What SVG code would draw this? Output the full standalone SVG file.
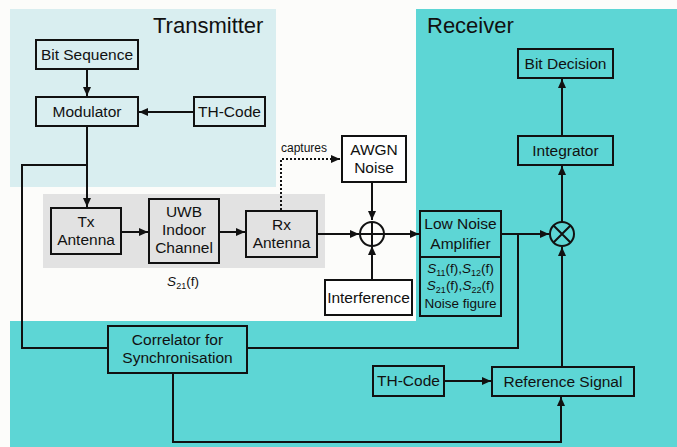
<svg xmlns="http://www.w3.org/2000/svg" width="677" height="447" viewBox="0 0 677 447">
<defs>
<marker id="ah" markerUnits="userSpaceOnUse" markerWidth="10" markerHeight="10" refX="9" refY="4" orient="auto"><path d="M0,0 L9,4 L0,8 z" fill="#111"/></marker>
<style>
.box{fill:none;stroke:#111;stroke-width:2}
.wbox{fill:#fff;stroke:#111;stroke-width:2}
.ln{fill:none;stroke:#111;stroke-width:2}
.arr{fill:none;stroke:#111;stroke-width:2;marker-end:url(#ah)}
.dot{fill:none;stroke:#111;stroke-width:2;stroke-dasharray:2,2;marker-end:url(#ah)}
text{font-family:"Liberation Sans",Arial,sans-serif;fill:#111}
.t{font-size:15.5px;text-anchor:middle}
.s{font-size:13.5px;text-anchor:middle}
.h{font-size:22px}
</style>
</defs>
<rect width="677" height="447" fill="#fcfcfa"/>
<rect x="10" y="9" width="266" height="178" fill="#d9eef0"/>
<path d="M416,9 H677 V447 H10 V321 H416 Z" fill="#5dd6d5"/>
<rect x="43" y="194" width="282" height="74" fill="#e2e2e2"/>
<text class="h" x="153" y="33">Transmitter</text>
<text class="h" x="427" y="33">Receiver</text>

<g id="connectors">
<path class="arr" d="M87,69 V96"/>
<path class="arr" d="M194,112 H139"/>
<path class="arr" d="M87,126 V207"/>
<path class="ln" d="M87,165 H22 V348 H108"/>
<path class="arr" d="M121,232 H148"/>
<path class="arr" d="M219,232 H245"/>
<path class="arr" d="M317,234 H359"/>
<path class="dot" d="M281,210 V159 H340"/>
<path class="arr" d="M372,182 V220"/>
<path class="arr" d="M372,280 V246"/>
<path class="arr" d="M384,234 H419"/>
<path class="arr" d="M501,234 H549"/>
<path class="ln" d="M518,234 V348 H247"/>
<path class="arr" d="M562,222 V166"/>
<path class="arr" d="M562,136 V79"/>
<path class="arr" d="M562,367 V247"/>
<path class="arr" d="M444,381 H491"/>
<path class="arr" d="M173,373 V442 H561 V397"/>
</g>

<g id="bitseq"><rect class="box" x="36" y="40" width="102" height="29"/><text class="t" x="87" y="60">Bit Sequence</text></g>
<g id="modulator"><rect class="box" x="36" y="97" width="102" height="29"/><text class="t" x="87" y="117">Modulator</text></g>
<g id="thcode1"><rect class="box" x="194" y="97" width="71" height="29"/><text class="t" x="229.5" y="117">TH-Code</text></g>
<g id="txant"><rect class="box" x="51" y="208" width="70" height="46"/><text class="t" x="86" y="227">Tx</text><text class="t" x="86" y="245">Antenna</text></g>
<g id="uwb"><rect class="box" x="149" y="199" width="70" height="64"/><text class="t" x="184" y="217">UWB</text><text class="t" x="184" y="235">Indoor</text><text class="t" x="184" y="253">Channel</text></g>
<g id="rxant"><rect class="box" x="246" y="211" width="71" height="46"/><text class="t" x="281.5" y="230">Rx</text><text class="t" x="281.5" y="248">Antenna</text></g>
<text class="s" x="183" y="286"><tspan font-style="italic">S</tspan><tspan font-size="9" dy="3">21</tspan><tspan dy="-3">(f)</tspan></text>
<text x="281" y="152" font-size="12">captures</text>
<g id="awgn"><rect class="wbox" x="342" y="136" width="64" height="46"/><text class="t" x="374" y="155">AWGN</text><text class="t" x="374" y="173">Noise</text></g>
<g id="sum"><circle cx="372" cy="234" r="12" fill="none" stroke="#111" stroke-width="2"/><path class="ln" d="M360,234 H384 M372,222 V246"/></g>
<g id="interf"><rect class="wbox" x="325" y="280" width="87" height="35"/><text class="t" x="368.5" y="303">Interference</text></g>
<g id="lna"><rect class="box" x="420" y="211" width="81" height="105"/><path class="ln" d="M420,257 H501"/>
<text class="t" x="460.5" y="229">Low Noise</text><text class="t" x="460.5" y="249">Amplifier</text>
<text class="s" x="460.5" y="273"><tspan font-style="italic">S</tspan><tspan font-size="9" dy="3">11</tspan><tspan dy="-3">(f),</tspan><tspan font-style="italic">S</tspan><tspan font-size="9" dy="3">12</tspan><tspan dy="-3">(f)</tspan></text>
<text class="s" x="460.5" y="290"><tspan font-style="italic">S</tspan><tspan font-size="9" dy="3">21</tspan><tspan dy="-3">(f),</tspan><tspan font-style="italic">S</tspan><tspan font-size="9" dy="3">22</tspan><tspan dy="-3">(f)</tspan></text>
<text class="s" x="460.5" y="308">Noise figure</text></g>
<g id="mult"><circle cx="562" cy="234" r="12" fill="none" stroke="#111" stroke-width="2"/><path class="ln" d="M553.5,225.5 L570.5,242.5 M570.5,225.5 L553.5,242.5"/></g>
<g id="integrator"><rect class="box" x="518" y="136" width="95" height="29"/><text class="t" x="565.5" y="156">Integrator</text></g>
<g id="bitdec"><rect class="box" x="518" y="49" width="95" height="29"/><text class="t" x="565.5" y="69">Bit Decision</text></g>
<g id="correlator"><rect class="box" x="108" y="326" width="139" height="47"/><text class="t" x="177.5" y="345">Correlator for</text><text class="t" x="177.5" y="363">Synchronisation</text></g>
<g id="thcode2"><rect class="box" x="373" y="366" width="71" height="30"/><text class="t" x="408.5" y="386">TH-Code</text></g>
<g id="refsig"><rect class="box" x="492" y="367" width="142" height="29"/><text class="t" x="563" y="387">Reference Signal</text></g>
</svg>
